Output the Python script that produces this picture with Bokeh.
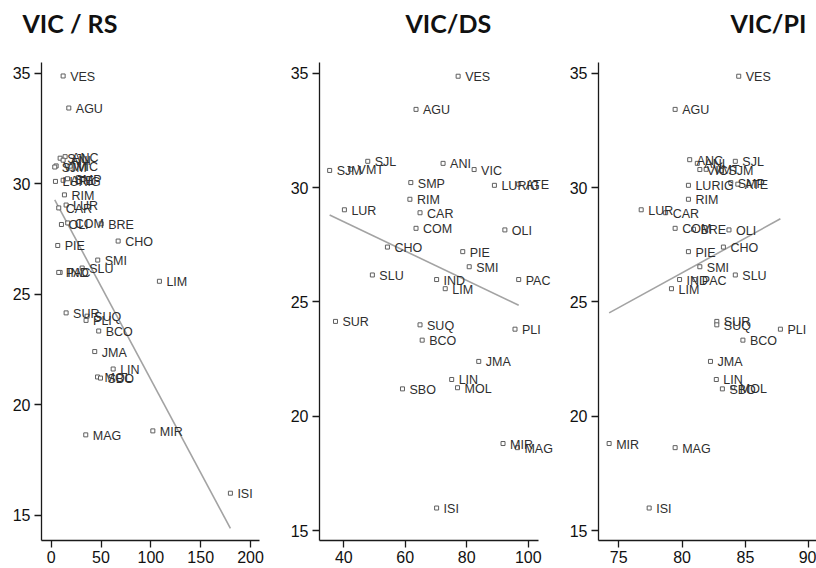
from bokeh.plotting import figure
from bokeh.models import ColumnDataSource, LabelSet, Range1d, FixedTicker, Title
from bokeh.core.properties import value
from bokeh.layouts import row
from bokeh.embed import file_html
from bokeh.resources import INLINE
import numpy as np

# Districts and VIC values (y axis, shared by all panels)
cities = ["VES", "AGU", "ANC", "SJL", "ANI", "VMT", "VIC", "SJM", "SMP", "ATE",
          "LURIG", "RIM", "LUR", "CAR", "COM", "BRE", "OLI", "CHO", "PIE", "SMI",
          "SLU", "IND", "PAC", "LIM", "SUR", "SUQ", "PLI", "BCO", "JMA", "LIN",
          "MOL", "SBO", "MIR", "MAG", "ISI"]
vic = [34.87, 33.42, 31.22, 31.15, 31.06, 30.80, 30.79, 30.75, 30.22, 30.15,
       30.10, 29.49, 29.03, 28.90, 28.22, 28.18, 28.15, 27.40, 27.20, 26.54,
       26.18, 25.98, 25.98, 25.58, 24.15, 24.00, 23.81, 23.33, 22.40, 21.61,
       21.25, 21.20, 18.81, 18.63, 15.99]

# x values per panel (None = not shown)
rs = [12.0, 17.7, 14.0, 9.0, 12.0, 5.0, 19.0, 3.6, 16.4, 12.0,
      4.3, 13.3, 15.0, 7.6, 16.6, 50.2, 10.3, 67.2, 6.6, 46.7,
      31.1, 9.0, 7.6, 108.6, 15.0, 36.0, 35.0, 47.7, 43.7, 62.2,
      46.5, 49.5, 102.0, 34.7, 179.8]
ds = [77.2, 63.5, None, 47.8, 72.3, 42.2, 82.4, 35.4, 61.8, 96.9,
      89.0, 61.5, 40.2, 64.8, 63.5, None, 92.4, 54.2, 78.7, 80.8,
      49.3, 70.2, 96.9, 73.0, 37.3, 64.8, 95.7, 65.5, 83.9, 75.1,
      77.0, 59.1, 91.8, 96.5, 70.2]
pi = [84.47, 79.45, 80.6, 84.2, 81.2, 81.9, 81.4, 83.1, 83.84, 84.4,
      80.5, 80.5, 76.77, 78.7, 79.45, 80.9, 83.7, 83.26, 80.5, 81.4,
      84.2, 79.8, 81.0, 79.16, 82.74, 82.74, 87.76, 84.8, 82.24, 82.7,
      84.0, 83.18, 74.24, 79.45, 77.4]

titles = ["VIC / RS", "VIC/DS", "VIC/PI"]
xticks_rs = [0, 50, 100, 150, 200]
xticks_ds = [40, 60, 80, 100]
xticks_pi = [75, 80, 85, 90]
yticks = [15, 20, 25, 30, 35]

TICK_FONT = "Liberation Sans"


def panel(xvals, title, xr, xbounds, yr, xticks, width, bl, br, toffset):
    names = [c for c, v in zip(cities, xvals) if v is not None]
    xs = [v for v in xvals if v is not None]
    ys = [y for y, v in zip(vic, xvals) if v is not None]
    src = ColumnDataSource(dict(x=xs, y=ys, name=names))

    p = figure(width=width, height=568, x_range=Range1d(*xr), y_range=Range1d(*yr),
               output_backend="svg", toolbar_location=None,
               min_border_left=bl, min_border_right=br,
               min_border_top=62, min_border_bottom=28)
    p.outline_line_color = None
    p.xgrid.visible = False
    p.ygrid.visible = False
    p.background_fill_color = "white"
    p.border_fill_color = "white"

    # spacer between frame and title
    p.add_layout(Title(text=" ", text_font_size="10px", standoff=12), "above")

    p.title.text = title
    p.title.text_font = "Lato"
    p.title.text_font_style = "bold"
    p.title.text_font_size = "25px"
    p.title.text_color = "#111111"
    p.title.align = "left"
    p.title.offset = toffset
    p.title.standoff = 0

    # fitted line (OLS from the data)
    a, b = np.polyfit(np.array(xs), np.array(ys), 1)
    lx = np.array([min(xs), max(xs)])
    p.line(lx, a * lx + b, line_color="#a3a3a3", line_width=1.6)

    p.scatter("x", "y", source=src, marker="square", size=4,
              fill_color="white", line_color="#5f5f5f", line_width=1)
    labels = LabelSet(x="x", y="y", text="name", source=src, x_offset=7, y_offset=-1,
                      text_baseline="middle", text_font=value(TICK_FONT),
                      text_font_size="12.5px", text_color="#2e2e2e")
    p.add_layout(labels)

    for ax, ticks in ((p.xaxis[0], xticks), (p.yaxis[0], yticks)):
        ax.ticker = FixedTicker(ticks=ticks)
        ax.minor_tick_line_color = None
        ax.major_tick_in = 0
        ax.major_tick_out = 7
        ax.axis_line_color = "#1a1a1a"
        ax.axis_line_width = 1.3
        ax.major_tick_line_color = "#1a1a1a"
        ax.major_tick_line_width = 1.3
        ax.major_label_text_font = TICK_FONT
        ax.major_label_text_font_size = "16px"
        ax.major_label_text_color = "#111111"
    p.xaxis.bounds = xbounds
    p.xaxis.major_label_standoff = 3
    p.yaxis.major_label_standoff = 4
    return p


# frames: panel 1 x 41-259, panel 2 x 319-538 (drawn to 564 so labels fit), panel 3 x 598-816
p1 = panel(rs, titles[0], (-9.7, 209.0), (-9.7, 209.0), (13.85, 35.48),
           xticks_rs, 272, 41, 13, -19)
p2 = panel(ds, titles[1], (32.1, 111.8), (32.1, 103.35), (14.57, 35.47),
           xticks_ds, 292, 47, 0, 86)
p3 = panel(pi, titles[2], (73.40, 90.61), (73.40, 90.61), (14.57, 35.47),
           xticks_pi, 252, 34, 0, 132)

layout = row(p1, p2, p3)
open("out.html", "w").write(file_html(layout, INLINE))
